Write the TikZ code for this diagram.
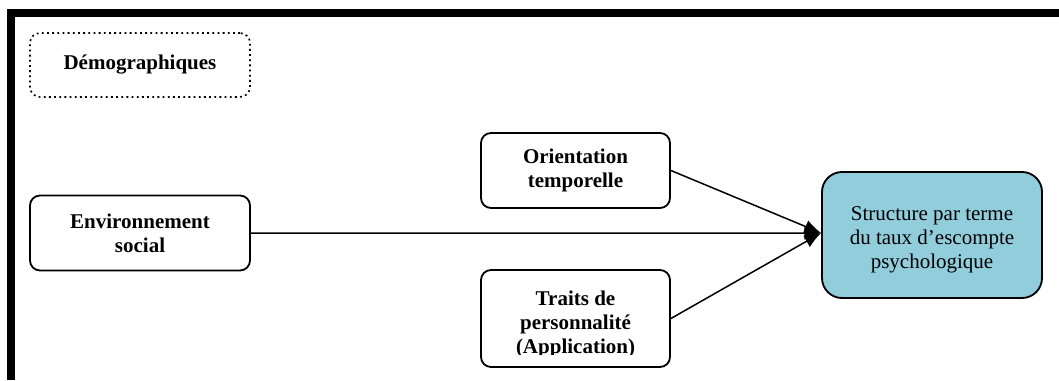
\documentclass[tikz,border=0pt]{standalone}
\usepackage{fontspec}
\setmainfont{Liberation Serif}
\usetikzlibrary{positioning,arrows.meta}
\definecolor{aqua}{HTML}{92CDDC}
\tikzset{
  box/.style={rectangle, rounded corners=6pt, draw, line width=1.1pt, fill=white, align=center, inner sep=0pt,
    font=\bfseries\fontsize{12.6}{14.4}\selectfont},
  dotbox/.style={box, dotted, line width=1pt},
  target/.style={rectangle, rounded corners=12pt, draw, line width=1.1pt, fill=aqua, align=center, inner sep=0pt,
    font=\fontsize{12.6}{14.4}\selectfont, minimum width=132pt, minimum height=75.6pt},
  link/.style={-{Latex[length=10pt,width=8pt]}, line width=0.9pt}
}
\begin{document}
\begin{tikzpicture}[x=0.6pt, y=-0.6pt]
  \useasboundingbox (0,0) rectangle (1059,380);
  % frame (top and left only)
  \fill (7,9) rectangle (1059,17);
  \fill (7,9) rectangle (15,380);

  \node [dotbox, minimum width=132pt, minimum height=38.4pt] (demo) at (140,65) {Démographiques};
  \node [box, minimum width=132pt, minimum height=45pt] (env) at (140,233) {Environnement\\social};
  \node [box, minimum width=113.4pt, minimum height=45pt] (orient) at (575.5,170.5) {Orientation\\temporelle};
  \node [box, minimum width=113.4pt, minimum height=58.2pt] (traits) at (575.5,318.5) {};
  \begin{scope}
    \clip (481,270) rectangle (670,354);
    \node [box, draw=none, fill=none, anchor=north] (traitstxt) at (575.5,290) {Traits de\\personnalité\\(Application)};
  \end{scope}
  \node [target] (struct) at (932,235) {};
  \node [align=center, inner sep=0pt, font=\fontsize{12.6}{14.4}\selectfont] (structtxt) at (932,240)
    {Structure par terme\\du taux d’escompte\\psychologique};

  \coordinate (tip) at ([yshift=1.2pt]struct.west);
  \draw [link] (env.east) -- (tip);
  \draw [link] (orient.east) -- (tip);
  \draw [link] (traits.east) -- (tip);
\end{tikzpicture}
\end{document}
